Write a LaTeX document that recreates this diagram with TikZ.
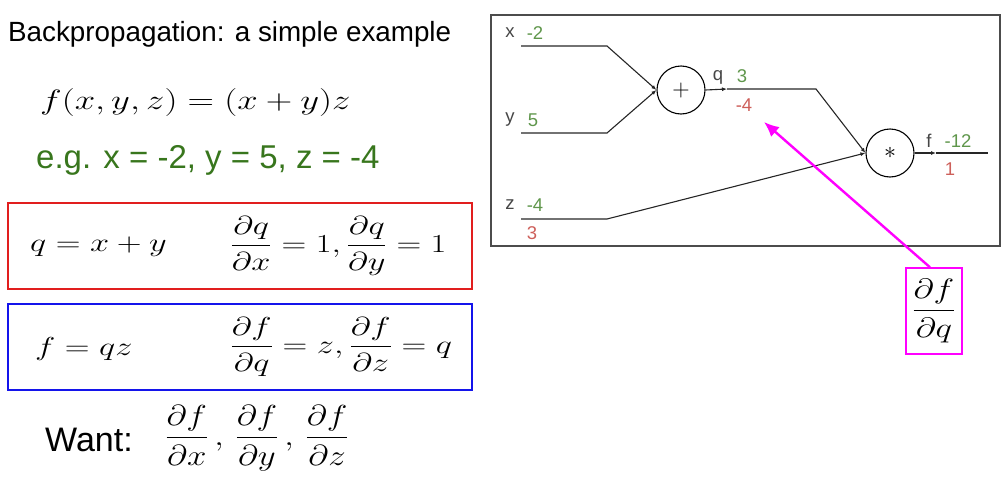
\RequirePackage{fix-cm}
\documentclass[tikz,border=0pt]{standalone}
\usepackage{amsmath}
\usepackage{graphicx}
\usepackage{fontspec}
\setmainfont{Liberation Sans}
\usetikzlibrary{arrows.meta}

\definecolor{eggreen}{RGB}{56,118,29}
\definecolor{valgreen}{RGB}{95,150,75}
\definecolor{gradred}{RGB}{205,95,90}
\definecolor{labgray}{RGB}{70,70,70}
\definecolor{callout}{RGB}{255,0,255}
\definecolor{boxred}{RGB}{225,30,30}
\definecolor{boxblue}{RGB}{20,20,235}

\newcommand*{\mathsize}[1]{\fontsize{#1}{#1}\selectfont}
\newcommand*{\wide}[1]{\scalebox{1.32}[1]{#1}}

\begin{document}
\begin{tikzpicture}
[
	x=1pt, y=-1pt,
	wire/.style={line width=1.1pt, black!85},
	tip/.style={-{Latex[length=5pt,width=4pt]}},
	gate/.style={circle,draw,line width=1.1pt,minimum size=48pt,inner sep=0pt,font=\fontsize{24}{28}\selectfont},
	lab/.style={font=\fontsize{18.5}{20}\selectfont,text=labgray,inner sep=0pt},
	fwd/.style={lab,text=valgreen},
	bwd/.style={lab,text=gradred},
	eqbox/.style={draw,line width=1.2pt,minimum width=464pt,minimum height=86pt,inner sep=0pt},
	mathtext/.style={font=\mathsize{26},inner sep=0pt,anchor=west}
]

	\useasboundingbox (0,0) rectangle (1004,482);

	% left side
	\node[anchor=west,inner sep=0pt,font=\fontsize{27.8}{30}\selectfont] (title) at (8,34) {Backpropagation: a simple example};
	\node[mathtext,font=\mathsize{28}] (fxyz) at (40,102) {\scalebox{1.31}[1]{$f(x,y,z) = (x+y)z$}};
	\node[anchor=west,inner sep=0pt,text=eggreen,font=\fontsize{33}{36}\selectfont] (eg) at (36,160) {e.g. x = -2, y = 5, z = -4};

	\node[eqbox,boxred] (redbox) at (240,246) {};
	\node[mathtext] (qdef) at (30,247) {\wide{$q = x + y$}};
	\node[mathtext] (qgrad) at (230,246) {\wide{$\dfrac{\partial q}{\partial x} = 1, \dfrac{\partial q}{\partial y} = 1$}};

	\node[eqbox,boxblue] (bluebox) at (240,347) {};
	\node[mathtext] (fdef) at (35,349) {\wide{$f = qz$}};
	\node[mathtext] (fgrad) at (230,347) {\wide{$\dfrac{\partial f}{\partial q} = z, \dfrac{\partial f}{\partial z} = q$}};

	\node[anchor=west,inner sep=0pt,font=\fontsize{34}{36}\selectfont] (want) at (45,440) {Want:};
	\node[mathtext,font=\mathsize{29}] (wantgrad) at (165,438) {\scalebox{1.2}[1]{$\dfrac{\partial f}{\partial x}\,,\, \dfrac{\partial f}{\partial y}\,,\, \dfrac{\partial f}{\partial z}$}};

	% circuit
	\node[draw,line width=1.2pt,black!70,minimum width=509pt,minimum height=231pt,inner sep=0pt] (panel) at (745.5,130.5) {};

	\node[gate] (add) at (681,90) {$+$};
	\node[gate] (mul) at (890,153) {$\ast$};

	\coordinate (xin) at (521,46);
	\coordinate (xbend) at (607,46);
	\coordinate (yin) at (521,133);
	\coordinate (ybend) at (607,133);
	\coordinate (zin) at (521,219);
	\coordinate (zbend) at (607,219);
	\coordinate (qarr) at (727,89);
	\coordinate (qbend) at (816,89);
	\coordinate (farr) at (936,153);
	\coordinate (fout) at (988,153);

	\draw[wire,tip] (xin) -- (xbend) -- (add.west);
	\draw[wire,tip] (yin) -- (ybend) -- (add.west);
	\draw[wire,tip] (add.east) -- (qarr);
	\draw[wire,tip] (qarr) -- (qbend) -- (mul.west);
	\draw[wire,tip] (zin) -- (zbend) -- (mul.west);
	\draw[wire,tip] (mul.east) -- (farr);
	\draw[wire] (farr) -- (fout);

	\node[lab] (xname) at (510,33) {x};
	\node[fwd] (xval) at (535,33) {-2};
	\node[lab] (yname) at (510,120) {y};
	\node[fwd] (yval) at (533,120) {5};
	\node[lab] (zname) at (510,205) {z};
	\node[fwd] (zval) at (535,205) {-4};
	\node[bwd] (zgrad) at (532,233) {3};
	\node[lab] (qname) at (718,77) {q};
	\node[fwd] (qval) at (742,76) {3};
	\node[bwd] (qgradval) at (744,105) {-4};
	\node[lab] (fname) at (929,141) {f};
	\node[fwd] (fval) at (958,141) {-12};
	\node[bwd] (fgradval) at (950,169) {1};

	% dfdq callout
	\node[draw=callout,line width=1.4pt,minimum width=56pt,minimum height=86pt,inner sep=0pt,font=\mathsize{28}] (magbox) at (934,311) {\scalebox{1.25}[1]{$\dfrac{\partial f}{\partial q}$}};
	\coordinate (dqtip) at (764,122);
	\draw[callout,line width=2.4pt,-{Latex[length=15pt,width=13pt]}] ([xshift=-4pt]magbox.north) -- (dqtip);

\end{tikzpicture}
\end{document}
